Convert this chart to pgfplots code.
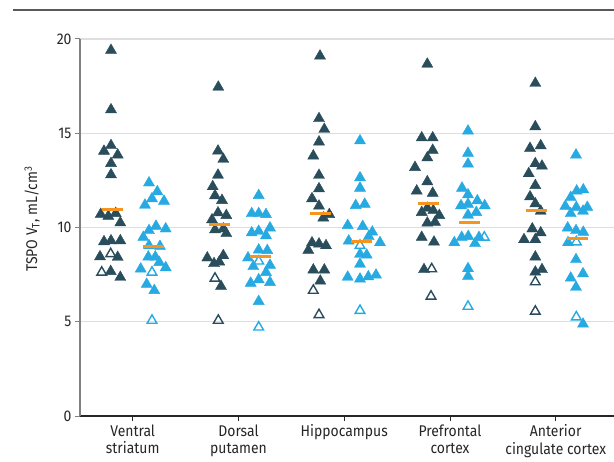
\documentclass[border=0pt]{standalone}
\usepackage{fontspec}
\setmainfont{Fira Sans}[FakeStretch=0.9]
\usepackage{pgfplots}
\usepackage{pgfplotstable}
\pgfplotsset{compat=1.18}

\definecolor{darkteal}{RGB}{42,77,92}
\definecolor{lightblue}{RGB}{39,170,225}
\definecolor{meanorange}{RGB}{247,148,30}
\definecolor{gridgray}{RGB}{222,222,222}

% x = jittered horizontal position (px scale), y = TSPO VT
\pgfplotstableread{
x y
111 19.4
111 16.25
111 14.35
104 14.05
117.7 13.85
111 13.4
111 12.8
100.7 10.7
108.3 10.6
115.7 10.75
120.3 10.25
104 9.25
111 9.3
120.3 9.3
100 8.45
117.7 8.42
110.7 7.67
120.3 7.36
218.3 17.45
218 14.06
223.3 13.62
218 12.78
212.7 12.17
215 11.69
222 11.44
218 10.78
226.3 10.64
212 10.41
215 9.88
223.3 9.93
226.3 9.68
207.3 8.39
223.3 8.51
214 8.09
219.3 8.17
221 6.88
320 19.1
319 15.78
324.3 15.21
319 14.54
313.3 13.8
319 12.77
319 12.06
312 11.53
319 11.14
323.3 10.51
329.3 10.69
312 9.19
319 9.13
326 9.04
308.3 8.79
313.3 7.75
324.3 7.75
320.3 7.16
427.3 18.67
421.7 14.76
432.7 14.76
432.7 14.1
427.3 13.7
415 13.19
427.3 12.43
416.7 11.94
432.7 11.82
427.3 11.03
421.7 10.8
433.3 10.9
439.3 10.64
427.3 10.24
435 10.28
421.7 9.48
434 9.23
424 7.77
535.3 17.65
535.3 15.35
530 14.2
540.7 14.34
535.3 13.39
542 13.26
528.7 12.86
535.3 12.23
530 11.63
535.3 11.26
540.7 10.87
532.3 9.93
540.7 9.72
524 9.36
535.3 9.36
535.3 8.44
535.3 7.64
542 7.77
}\darkfilled

\pgfplotstableread{
x y
110.7 8.6
101.7 7.62
215 7.3
218.3 5.07
313.3 6.66
319 5.37
431.7 7.8
431 6.35
535.3 7.11
535.3 5.55
}\darkhollow

\pgfplotstableread{
x y
149 12.37
157.3 11.9
152 11.53
164 11.4
145 11.19
156 10.07
149 9.84
165.7 9.93
143.3 9.48
149 9.04
160 9.0
148.3 8.44
155.3 8.44
159.3 8.15
165.7 7.87
140.7 7.8
146.7 6.99
154.3 6.66
258.7 11.7
251.7 10.74
258.7 10.74
266 10.69
270 9.98
251.7 9.72
258.7 9.8
266 9.57
258.7 8.81
267.3 8.78
248 8.39
253.3 7.93
270 8.0
266 7.62
258.7 7.23
250.7 7.05
270 7.09
258.7 6.08
360 14.6
360 12.64
360 12.09
355.7 11.17
364.7 11.24
347.7 10.11
362.7 10.06
372.3 9.76
348.7 9.29
368.7 9.52
380 9.2
360 8.58
366.7 8.54
360 8.06
347.7 7.37
360 7.27
368.3 7.39
376 7.48
468 15.12
468 13.94
468 13.37
462 12.09
468 11.74
477.3 11.42
461 11.16
468 11.24
484.7 11.16
476.3 10.8
468 10.66
454.3 9.2
461.7 9.48
468.3 9.53
479 9.48
475 9.15
468 7.82
468 7.41
576 13.85
576.7 11.94
583.3 12.0
570.7 11.6
565.3 11.13
576.3 11.07
587.3 11.07
570.7 10.74
583 10.87
567.7 9.98
576 9.84
583.3 9.75
568 9.2
576 8.3
570.7 7.32
583 7.55
576 6.83
583 4.88
}\lightfilled

\pgfplotstableread{
x y
152 7.62
152 5.07
258.7 8.21
258.7 4.71
360 9.04
360 5.59
484.3 9.48
468 5.81
576.3 9.23
576.3 5.25
}\lighthollow

\pgfplotstableread{
x y
112.5 10.94
153.5 8.97
219.5 10.14
260.5 8.46
320.5 10.73
361.5 9.27
428.5 11.29
469.5 10.27
536.5 10.90
577.5 9.43
}\means

\begin{document}
\begin{tikzpicture}
\path[use as bounding box] (0,0) rectangle (614bp,462bp);
\draw[line width=1.6bp, color=black!65] (13bp,452bp) -- (614bp,452bp);
\begin{axis}[
  at={(80bp,46bp)}, anchor=south west,
  scale only axis, width=534bp, height=377bp,
  xmin=80, xmax=614, ymin=0, ymax=20,
  clip=false,
  axis x line*=bottom, axis y line*=left,
  x axis line style={line width=1.2bp, black!85},
  y axis line style={line width=1.6bp, black!50},
  ytick={0,5,10,15,20},
  xtick={132.7,238.5,344.2,450,555.7},
  xticklabels={{Ventral\\striatum},{Dorsal\\putamen},{Hippocampus},{Prefrontal\\cortex},{Anterior\\cingulate cortex}},
  tick align=outside,
  major tick length=5bp,
  x tick style={line width=1bp, black!85},
  y tick style={line width=1bp, black!50},
  ymajorgrids,
  grid style={line width=1.3bp, color=gridgray},
  tick label style={font=\fontsize{15.5bp}{17.7bp}\selectfont, text=black!85},
  xticklabel style={align=center},
  /pgf/number format/assume math mode=true,
]
\addplot[only marks, mark=triangle*, mark size=6.4bp,
  mark options={draw=darkteal, fill=darkteal, line width=0.4bp}] table {\darkfilled};
\addplot[only marks, mark=triangle, mark size=5.6bp,
  mark options={draw=darkteal, fill=white, line width=1.4bp}] table {\darkhollow};
\addplot[only marks, mark=triangle*, mark size=6.4bp,
  mark options={draw=lightblue, fill=lightblue, line width=0.4bp}] table {\lightfilled};
\addplot[only marks, mark=triangle, mark size=5.6bp,
  mark options={draw=lightblue, fill=white, line width=1.4bp}] table {\lighthollow};
\addplot[only marks, mark=-, mark size=10.5bp,
  mark options={draw=meanorange, line width=3bp}] table {\means};
\end{axis}
\node[rotate=90, font=\fontsize{15.5bp}{17.7bp}\selectfont, text=black!85] at (32bp,243bp)
  {TSPO V\textsubscript{T}, mL/cm\textsuperscript{3}};
\end{tikzpicture}
\end{document}
